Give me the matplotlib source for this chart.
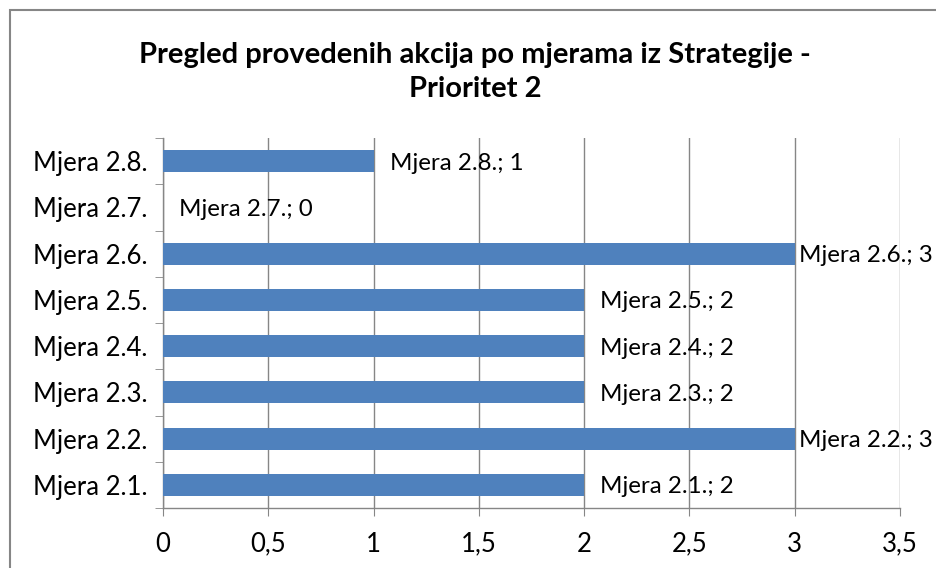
import matplotlib
matplotlib.use("Agg")
import matplotlib.pyplot as plt
from matplotlib.patches import Rectangle
import numpy as np

plt.rcParams['font.family'] = ['Lato', 'DejaVu Sans']

categories = ["Mjera 2.1.", "Mjera 2.2.", "Mjera 2.3.", "Mjera 2.4.",
              "Mjera 2.5.", "Mjera 2.6.", "Mjera 2.7.", "Mjera 2.8."]
values = [2, 3, 2, 2, 2, 3, 0, 1]
xticks = [0, 0.5, 1, 1.5, 2, 2.5, 3, 3.5]
xtick_labels = ["0", "0,5", "1", "1,5", "2", "2,5", "3", "3,5"]
title = "Pregled provedenih akcija po mjerama iz Strategije -\nPrioritet 2"

W, H = 937, 568
fig = plt.figure(figsize=(W / 100, H / 100), dpi=100)
ax = fig.add_axes([163 / W, 1 - 508 / H, (900 - 163) / W, (508 - 138) / H])

grid_c = "#868686"
fs = 18.5
fs_lab = 17.4
y = np.arange(len(categories))
ax.barh(y, values, height=0.48, color="#4F81BD", zorder=3)

ax.set_xlim(0, 3.5)
ax.set_ylim(-0.5, len(categories) - 0.5)
ax.set_xticks(xticks)
ax.set_xticklabels(xtick_labels, fontsize=fs)
ax.set_yticks(y)
ax.set_yticklabels(categories, fontsize=fs)
ax.set_yticks(np.arange(-0.5, len(categories)), minor=True)
ax.tick_params(axis='y', which='major', length=0, pad=11)
ax.tick_params(axis='y', which='minor', length=6, color=grid_c, direction='out')
ax.tick_params(axis='x', which='major', length=6, color=grid_c, direction='out', pad=11)
ax.xaxis.grid(True, color=grid_c, linewidth=1, zorder=0)
for s in ['top', 'right']:
    ax.spines[s].set_visible(False)
for s in ['left', 'bottom']:
    ax.spines[s].set_color(grid_c)
    ax.spines[s].set_linewidth(1)

vmax = max(values)
for yi, (cat, v) in enumerate(zip(categories, values)):
    off = 3.0 if v == vmax else 11.5
    ax.annotate(f"{cat}; {v}", xy=(v, yi), xytext=(off, -1.5), textcoords='offset points',
                ha='left', va='center', fontsize=fs_lab, zorder=4, annotation_clip=False)

fig.text(0.507, 1 - 72 / H, title, ha='center', va='center', fontsize=21,
         fontweight='bold', linespacing=1.4)

fig.patches.append(Rectangle((10 / W, -0.1), 1.2, 1 - 10 / H + 0.1, transform=fig.transFigure,
                             fill=False, edgecolor=grid_c, linewidth=1.5))

fig.savefig("out.png", dpi=100)
